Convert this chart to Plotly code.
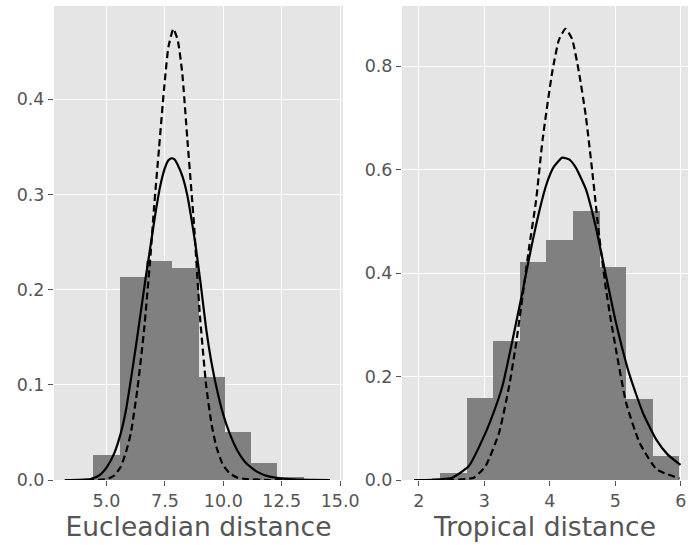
import plotly.graph_objects as go
from plotly.subplots import make_subplots

# ---- data ----
euc_edges = [4.435, 5.560, 6.686, 7.811, 8.937, 10.062, 11.188, 12.313, 13.438, 14.563]
euc_density = [0.0266, 0.213, 0.230, 0.2224, 0.1077, 0.0508, 0.0182, 0.0035, 0.0010]

trop_edges = [2.326, 2.733, 3.138, 3.544, 3.949, 4.355, 4.760, 5.166, 5.571, 5.977]
trop_density = [0.0141, 0.1593, 0.2677, 0.4211, 0.4631, 0.5193, 0.4109, 0.1574, 0.0471]

euc_solid_x = [3.22, 3.8, 4.32, 4.7, 5.03, 5.33, 5.61, 5.83, 6.04, 6.25, 6.46, 6.68, 6.89, 7.1, 7.3, 7.5, 7.65, 7.77, 7.9, 8.05, 8.25, 8.46, 8.65, 8.82, 9.05, 9.27, 9.48, 9.70, 9.98, 10.27, 10.6, 10.98, 11.45, 11.98, 13.0, 14.56]
euc_solid_y = [0.0, 0.0002, 0.001, 0.005, 0.014, 0.028, 0.049, 0.073, 0.105, 0.139, 0.175, 0.213, 0.247, 0.281, 0.309, 0.328, 0.336, 0.338, 0.337, 0.331, 0.319, 0.299, 0.272, 0.245, 0.202, 0.158, 0.125, 0.098, 0.07, 0.049, 0.031, 0.0175, 0.0085, 0.0035, 0.0006, 0.0]

euc_dash_x = [3.22, 4.5, 5.03, 5.35, 5.61, 5.83, 6.04, 6.32, 6.61, 6.89, 7.03, 7.25, 7.46, 7.65, 7.86, 8.05, 8.24, 8.46, 8.74, 8.99, 9.27, 9.50, 9.70, 9.98, 10.27, 10.6, 10.98, 12.0, 14.56]
euc_dash_y = [0.0, 0.0, 0.001, 0.005, 0.014, 0.029, 0.049, 0.095, 0.158, 0.238, 0.285, 0.349, 0.41, 0.455, 0.474, 0.462, 0.428, 0.358, 0.27, 0.175, 0.098, 0.058, 0.035, 0.016, 0.007, 0.0025, 0.001, 0.0, 0.0]

trop_solid_x = [1.93, 2.2, 2.51, 2.764, 3.02, 3.15, 3.277, 3.43, 3.585, 3.713, 3.84, 3.95, 4.06, 4.19, 4.3, 4.395, 4.55, 4.70, 4.857, 5.01, 5.215, 5.42, 5.63, 5.80, 5.995]
trop_solid_y = [0.0, 0.0005, 0.0045, 0.027, 0.0915, 0.133, 0.1816, 0.270, 0.365, 0.447, 0.52, 0.572, 0.605, 0.623, 0.619, 0.604, 0.562, 0.49, 0.395, 0.304, 0.204, 0.130, 0.077, 0.049, 0.029]

trop_dash_x = [1.93, 2.5, 2.84, 3.02, 3.226, 3.38, 3.48, 3.585, 3.687, 3.79, 3.89, 4.035, 4.14, 4.24, 4.34, 4.446, 4.55, 4.65, 4.754, 4.85, 4.93, 5.01, 5.165, 5.37, 5.63, 5.98]
trop_dash_y = [0.0, 0.0, 0.0045, 0.027, 0.0915, 0.182, 0.259, 0.356, 0.452, 0.54, 0.658, 0.787, 0.851, 0.872, 0.852, 0.787, 0.703, 0.594, 0.471, 0.375, 0.31, 0.252, 0.149, 0.072, 0.0207, 0.003]

euc_xticks = [5.0, 7.5, 10.0, 12.5, 15.0]
euc_yticks = [0.0, 0.1, 0.2, 0.3, 0.4]
trop_xticks = [2, 3, 4, 5, 6]
trop_yticks = [0.0, 0.2, 0.4, 0.6, 0.8]

W, H = 688, 545
fig = make_subplots(rows=1, cols=2)

def add_hist(edges, dens, col):
    centers = [(a + b) / 2 for a, b in zip(edges[:-1], edges[1:])]
    widths = [b - a for a, b in zip(edges[:-1], edges[1:])]
    fig.add_trace(go.Bar(x=centers, y=dens, width=widths, marker=dict(color="#808080", line=dict(width=0)),
                         showlegend=False, hoverinfo="skip"), row=1, col=col)

add_hist(euc_edges, euc_density, 1)
add_hist(trop_edges, trop_density, 2)

for xs, ys, dash, col in [(euc_solid_x, euc_solid_y, "solid", 1), (euc_dash_x, euc_dash_y, "7px,4px", 1),
                          (trop_solid_x, trop_solid_y, "solid", 2), (trop_dash_x, trop_dash_y, "7px,4px", 2)]:
    fig.add_trace(go.Scatter(x=xs, y=ys, mode="lines", line=dict(color="black", width=2.2, dash=dash, shape="spline", smoothing=0.5),
                             showlegend=False, hoverinfo="skip"), row=1, col=col)

font_fam = "DejaVu Sans"
tick_font = dict(family=font_fam, size=17.5, color="#555555")
title_font = dict(family=font_fam, size=26.5, color="#555555")
common_ax = dict(showgrid=True, gridcolor="white", gridwidth=1.3, zeroline=False, showline=False,
                 ticks="outside", ticklen=5, tickwidth=1, tickcolor="#555555", tickfont=tick_font,
                 automargin=False)

fig.update_xaxes(**common_ax)
fig.update_yaxes(**common_ax)

fig.update_layout(
    width=W, height=H,
    margin=dict(l=0, r=0, t=6, b=65, pad=0),
    paper_bgcolor="white", plot_bgcolor="#E5E5E5",
    bargap=0,
    xaxis=dict(domain=[54 / W, 343 / W], range=[2.754, 15.12], tickvals=euc_xticks, tickformat=".1f",
               title=dict(text="Eucleadian distance", font=title_font, standoff=6)),
    yaxis=dict(range=[0, 0.498], tickvals=euc_yticks, tickformat=".1f"),
    xaxis2=dict(domain=[402 / W, 1.0], range=[1.744, 6.109], tickvals=trop_xticks,
                title=dict(text="Tropical distance", font=title_font, standoff=6)),
    yaxis2=dict(range=[0, 0.916], tickvals=trop_yticks, tickformat=".1f"),
)

fig.write_html("out.html")
